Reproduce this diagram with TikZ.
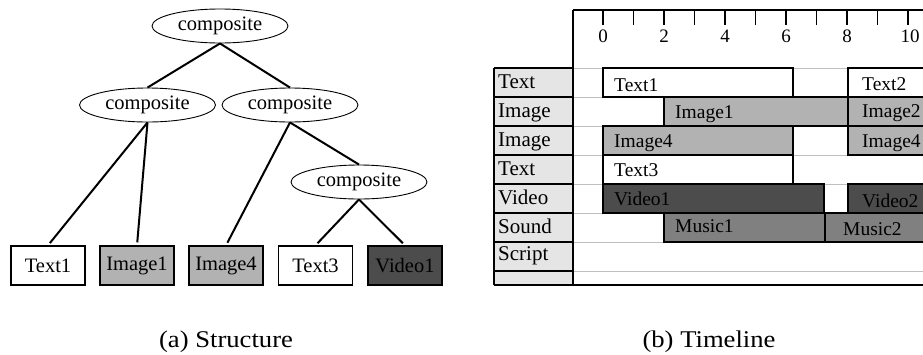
\documentclass[tikz,border=0pt]{standalone}
\usepackage{fontspec}
\setmainfont{Liberation Serif}
\usetikzlibrary{shapes.geometric}
\definecolor{imgc}{gray}{0.70}
\definecolor{vidc}{gray}{0.30}
\definecolor{musc}{gray}{0.50}
\definecolor{labc}{gray}{0.90}
\definecolor{gridc}{gray}{0.75}
\tikzset{
  comp/.style={draw, ellipse, minimum width=136pt, minimum height=34pt, inner sep=0pt, line width=0.9pt, font=\fontsize{20.5}{24}\selectfont},
  leaf/.style={draw, rectangle, minimum width=74pt, minimum height=39pt, inner sep=0pt, line width=1.2pt, font=\fontsize{20.5}{24}\selectfont},
  edge/.style={line width=2pt, shorten >=3pt},
  bar/.style={draw, line width=1.2pt},
  bartxt/.style={anchor=base west, inner sep=0pt, font=\fontsize{19.5}{23}\selectfont},
  labtxt/.style={anchor=base west, inner sep=0pt, font=\fontsize{21}{25}\selectfont},
  ticktxt/.style={anchor=base, inner sep=0pt, font=\fontsize{19}{23}\selectfont},
  captxt/.style={anchor=base, inner sep=0pt, font=\fontsize{24}{28}\selectfont, xscale=1.11, transform shape},
}
\begin{document}
\begin{tikzpicture}[x=1pt, y=-1pt]
\useasboundingbox (0,0) rectangle (923,354);
% ---------- (a) Structure ----------
\node[comp] (root) at (220,26) {composite};
\node[comp] (cl) at (147.5,105) {composite};
\node[comp] (cr) at (290,105) {composite};
\node[comp] (cs) at (359,182) {composite};
\node[leaf, fill=white] (t1) at (48,265.5) {Text1};
\node[leaf, fill=imgc] (i1) at (137,265.5) {Image1};
\node[leaf, fill=imgc] (i4) at (226,265.5) {Image4};
\node[leaf, fill=white] (t3) at (315.5,265.5) {Text3};
\node[leaf, fill=vidc] (v1) at (405,265.5) {Video1};
\draw[line width=2pt] (root.south) -- (cl.north);
\draw[line width=2pt] (root.south) -- (cr.north);
\draw[edge] (cl.south) -- (t1.north);
\draw[edge] (cl.south) -- (i1.north);
\draw[edge] (cr.south) -- (i4.north);
\draw[line width=2pt] (cr.south) -- (cs.north);
\draw[edge] (cs.south) -- (t3.north);
\draw[edge] (cs.south) -- (v1.north);
\node[captxt] (capa) at (226,347) {(a) Structure};
% ---------- (b) Timeline ----------
% grey row lines
\foreach \y in {68,97,126,155,184,213,242,271}
  \draw[gridc, line width=1pt] (573,\y) -- (923,\y);
% label column
\fill[labc] (494,68) rectangle (573,285);
\foreach \y in {68,97,126,155,184,213,242,271}
  \draw[line width=1.2pt] (494,\y) -- (573,\y);
\draw[line width=1.2pt] (494,68) -- (494,285);
% bars: row Text
\draw[bar, fill=white] (603,68) rectangle (793,97);
\draw[bar, fill=white] (848,68) rectangle (930,97);
% row Image
\draw[bar, fill=imgc] (664,97) rectangle (848,126);
\draw[bar, fill=imgc] (848,97) rectangle (930,126);
% row Image
\draw[bar, fill=imgc] (603,126) rectangle (793,155);
\draw[bar, fill=imgc] (848,126) rectangle (930,155);
% row Text
\draw[bar, fill=white] (603,155) rectangle (793,184);
% row Video
\draw[bar, fill=vidc] (603,184) rectangle (824,213);
\draw[bar, fill=vidc] (848,184) rectangle (930,213);
% row Sound
\draw[bar, fill=musc] (664,213) rectangle (825,242);
\draw[bar, fill=musc] (825,213) rectangle (930,242);
% frame
\draw[line width=1.2pt] (573,10) -- (573,285);
\draw[line width=1.2pt] (573,10) -- (923,10);
\draw[line width=1.2pt] (494,285) -- (923,285);
% ticks
\foreach \t in {0,...,10}
  \draw[line width=1.2pt] ({603+30.5*\t},10) -- ({603+30.5*\t},25);
\foreach \t in {0,2,4,6,8}
  \node[ticktxt] (tl\t) at ({603+30.5*\t},42) {\t};
\node[ticktxt] (tl10) at (910,42) {10};
% row labels
\node[labtxt] (l1) at (498,88.5) {Text};
\node[labtxt] (l2) at (498,117.5) {Image};
\node[labtxt] (l3) at (498,146.5) {Image};
\node[labtxt] (l4) at (498,175.5) {Text};
\node[labtxt] (l5) at (498,204.5) {Video};
\node[labtxt] (l6) at (498,233) {Sound};
\node[labtxt] (l7) at (498,260.5) {Script};
% bar labels
\node[bartxt] (b1) at (614,91.5) {Text1};
\node[bartxt] (b2) at (862,90.7) {Text2};
\node[bartxt] (b3) at (675,118.3) {Image1};
\node[bartxt] (b4) at (862,117.7) {Image2};
\node[bartxt] (b5) at (614,147.5) {Image4};
\node[bartxt] (b6) at (862,147.5) {Image4};
\node[bartxt] (b7) at (614,176) {Text3};
\node[bartxt] (b8) at (614,205) {Video1};
\node[bartxt] (b9) at (862,207.7) {Video2};
\node[bartxt] (b10) at (675,232.7) {Music1};
\node[bartxt] (b11) at (843,235) {Music2};
\node[captxt] (capb) at (709,347) {(b) Timeline};
\end{tikzpicture}
\end{document}
